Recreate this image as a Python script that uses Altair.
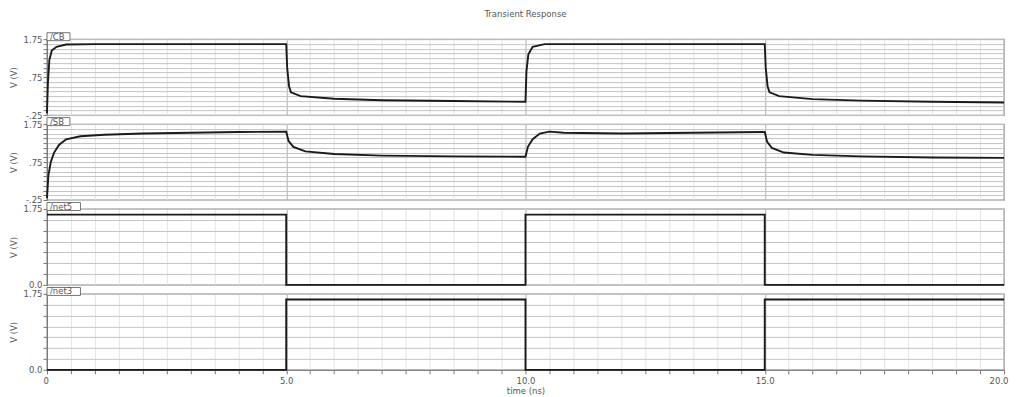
import altair as alt
import numpy as np
import pandas as pd

# ---- data ----
t_cb = [0.0, 0.02, 0.05, 0.1, 0.2, 0.4, 1.0, 5.0, 5.02, 5.06, 5.1, 5.3, 6.0, 7.0, 8.5, 10.0,
        10.02, 10.06, 10.15, 10.4, 15.0, 15.02, 15.06, 15.1, 15.3, 16.0, 17.0, 18.5, 20.0]
v_cb = [-0.2, 0.6, 1.2, 1.45, 1.55, 1.61, 1.62, 1.62, 1.0, 0.5, 0.35, 0.25, 0.18, 0.14, 0.12, 0.1,
        0.9, 1.35, 1.55, 1.62, 1.62, 1.0, 0.5, 0.35, 0.25, 0.17, 0.13, 0.1, 0.08]

t_sb = [0.0, 0.03, 0.08, 0.15, 0.25, 0.4, 0.7, 1.2, 2.0, 3.0, 4.0, 5.0, 5.05, 5.15, 5.4, 6.0, 7.0,
        8.5, 10.0, 10.05, 10.15, 10.3, 10.5, 10.8, 12.0, 13.5, 15.0, 15.05, 15.15, 15.4, 16.0,
        17.0, 18.5, 20.0]
v_sb = [-0.2, 0.4, 0.75, 1.0, 1.2, 1.35, 1.43, 1.47, 1.5, 1.52, 1.54, 1.55, 1.3, 1.15, 1.03, 0.96,
        0.92, 0.9, 0.89, 1.15, 1.35, 1.5, 1.55, 1.52, 1.5, 1.52, 1.54, 1.28, 1.12, 1.0, 0.94,
        0.9, 0.87, 0.86]

t_net5 = [0.0, 5.0, 5.0, 10.0, 10.0, 15.0, 15.0, 20.0]
v_net5 = [1.62, 1.62, 0.0, 0.0, 1.62, 1.62, 0.0, 0.0]

t_net3 = [0.0, 5.0, 5.0, 10.0, 10.0, 15.0, 15.0, 20.0]
v_net3 = [0.0, 0.0, 1.62, 1.62, 0.0, 0.0, 1.62, 1.62]

panel_names = ["/CB", "/SB", "/net5", "/net3"]
title_text = "Transient Response"
x_title = "time (ns)"
y_title = "V (V)"

analog_ticks = [-0.25 + 0.125 * i for i in range(17)]
digital_ticks = [0.0, 0.25, 0.5, 0.75, 1.0, 1.25, 1.5, 1.75]
x_ticks = [float(x) for x in np.arange(0, 20.01, 0.5)]

W = 958
H = 76
FONT = "DejaVu Sans"
TXT = "#555555"
GRID_H = "#c4c4c4"

x_grid_color = {"condition": {"test": "datum.value % 5 == 0", "value": "#b0b0b0"}, "value": "#e4e4e4"}


def panel(t, v, name, ymin, ymax, yticks, ylabel_expr, bottom=False, title=None):
    df = pd.DataFrame({"t": t, "v": v})
    if bottom:
        xaxis = alt.Axis(values=x_ticks, title=x_title,
                         labelExpr="datum.value == 0 ? '0' : (datum.value % 5 == 0 ? format(datum.value, '.1f') : '')",
                         labelOverlap=False, labelFlush=True, labelFlushOffset=4, tickSize=4,
                         labelPadding=3, gridColor=x_grid_color, titleFontSize=8.5, titleColor=TXT,
                         titleFont=FONT, titleFontWeight="normal", titlePadding=1)
    else:
        xaxis = alt.Axis(values=x_ticks, title=None, labels=False, ticks=False, domain=False,
                         gridColor=x_grid_color)
    yaxis = alt.Axis(values=yticks, labelExpr=ylabel_expr, title=y_title, labelOverlap=False,
                     labelFlush=False, tickSize=4, labelPadding=1, gridColor=GRID_H,
                     titleFontSize=8.5, titleColor=TXT, titleFont=FONT, titleFontWeight="normal",
                     titlePadding=5)
    xs = alt.Scale(domain=[0, 20], nice=False, zero=False)
    ys = alt.Scale(domain=[ymin, ymax], nice=False, zero=False)
    line = alt.Chart(df).mark_line(color="#1a1a1a", strokeWidth=1.9).encode(
        x=alt.X("t:Q", scale=xs, axis=xaxis),
        y=alt.Y("v:Q", scale=ys, axis=yaxis),
    )
    span = ymax - ymin
    tab_w = 0.15 + 0.11 * len(name)
    tab_df = pd.DataFrame({"t": [0.0], "t2": [tab_w], "v": [ymax - 0.02 * span],
                           "v2": [ymax + 0.085 * span], "vm": [ymax + 0.032 * span],
                           "name": [name]})
    tab = alt.Chart(tab_df).mark_rect(fill="white", stroke="#666", strokeWidth=0.9).encode(
        x=alt.X("t:Q", scale=xs, axis=xaxis), x2="t2:Q",
        y=alt.Y("v:Q", scale=ys, axis=yaxis), y2="v2:Q",
    )
    txt = alt.Chart(tab_df).mark_text(
        font=FONT, fontSize=8.5, color=TXT, align="left", baseline="middle", dx=3
    ).encode(x=alt.X("t:Q", scale=xs, axis=xaxis), y=alt.Y("vm:Q", scale=ys, axis=yaxis),
             text="name:N")
    ch = alt.layer(line, tab, txt).properties(width=W, height=H)
    if title is not None:
        ch = ch.properties(title=alt.TitleParams(title, fontSize=8.5, color=TXT, font=FONT,
                                                 fontWeight="normal", anchor="middle",
                                                 frame="group", offset=14))
    return ch


analog_expr = "datum.value == 1.75 ? '1.75' : (datum.value == 0.75 ? '.75' : (datum.value == -0.25 ? '-.25' : ''))"
digital_expr = "datum.value == 1.75 ? '1.75' : (datum.value == 0 ? '0.0' : '')"

p1 = panel(t_cb, v_cb, panel_names[0], -0.25, 1.75, analog_ticks, analog_expr, title=title_text)
p2 = panel(t_sb, v_sb, panel_names[1], -0.25, 1.75, analog_ticks, analog_expr)
p3 = panel(t_net5, v_net5, panel_names[2], 0.0, 1.75, digital_ticks, digital_expr)
p4 = panel(t_net3, v_net3, panel_names[3], 0.0, 1.75, digital_ticks, digital_expr, bottom=True)

chart = alt.vconcat(p1, p2, p3, p4, spacing=9, bounds="flush").properties(
    padding={"left": 0, "top": 0, "right": 0, "bottom": 0}
).configure_view(stroke="#8a8a8a", strokeWidth=1.3).configure_axis(
    labelFont=FONT, labelFontSize=8.5, labelColor=TXT, tickColor="#777", domainColor="#777",
    gridWidth=1
)

chart.save("out.html", embed_options={"renderer": "svg", "actions": False})
